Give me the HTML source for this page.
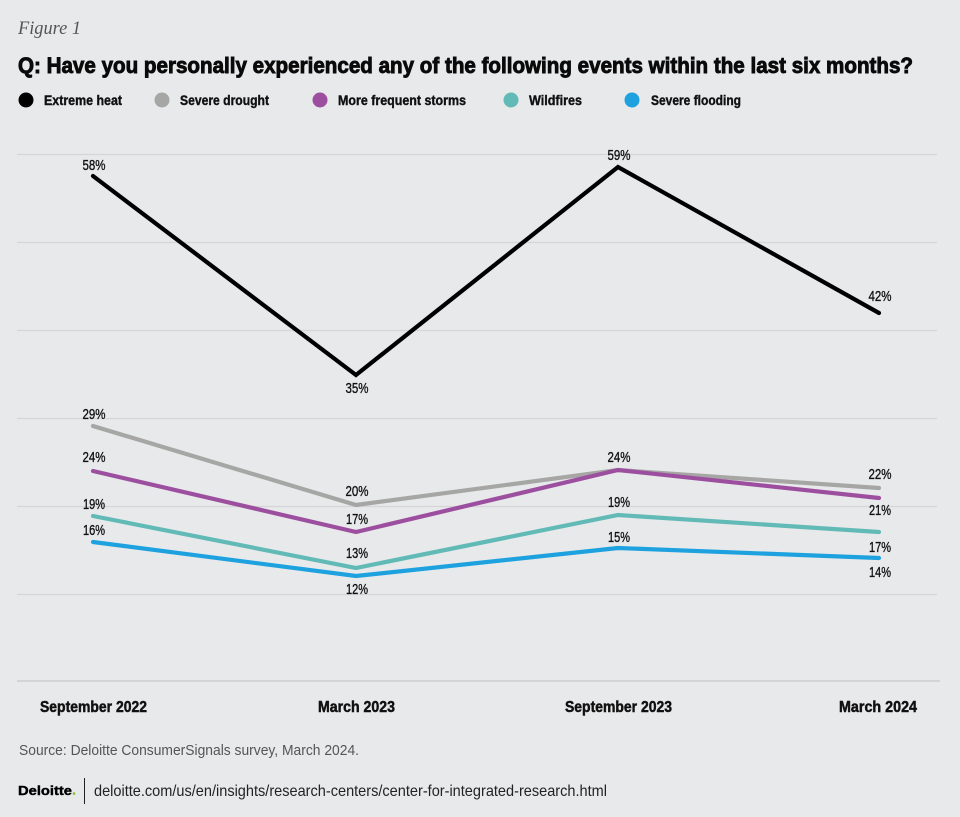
<!DOCTYPE html>
<html>
<head>
<meta charset="utf-8">
<style>
  html,body{margin:0;padding:0;background:#e8e9eb;}
  body{width:960px;height:817px;overflow:hidden;}
  svg{display:block;}
</style>
</head>
<body>
<svg width="960" height="817" viewBox="0 0 960 817" xmlns="http://www.w3.org/2000/svg" style="font-family:'Liberation Sans', sans-serif;">
  <rect x="0" y="0" width="960" height="817" fill="#e8e9eb"/>

  <!-- Figure label -->
  <text x="18" y="34" style="font-family:'Liberation Serif', serif;font-style:italic;" font-size="19" fill="#555" textLength="63" lengthAdjust="spacingAndGlyphs">Figure 1</text>

  <!-- Title -->
  <text x="18" y="73" font-size="22" font-weight="bold" fill="#0a0a0a" stroke="#0a0a0a" stroke-width="0.9" textLength="895" lengthAdjust="spacingAndGlyphs">Q: Have you personally experienced any of the following events within the last six months?</text>

  <!-- Legend -->
  <g font-size="14" font-weight="bold" fill="#111" stroke="#111" stroke-width="0.4">
    <text x="44" y="105" textLength="78" lengthAdjust="spacingAndGlyphs">Extreme heat</text>
    <text x="180" y="105" textLength="89" lengthAdjust="spacingAndGlyphs">Severe drought</text>
    <text x="338" y="105" textLength="128" lengthAdjust="spacingAndGlyphs">More frequent storms</text>
    <text x="529" y="105" textLength="53" lengthAdjust="spacingAndGlyphs">Wildfires</text>
    <text x="651" y="105" textLength="90" lengthAdjust="spacingAndGlyphs">Severe flooding</text>
  </g>
  <circle cx="26" cy="100" r="7.5" fill="#000"/>
  <circle cx="162" cy="100" r="7.5" fill="#a6a6a4"/>
  <circle cx="320" cy="100" r="7.5" fill="#9d4f9f"/>
  <circle cx="511" cy="100" r="7.5" fill="#62bab6"/>
  <circle cx="632" cy="100" r="7.5" fill="#1ea2df"/>

  <!-- Gridlines -->
  <g stroke="#d5d6d8" stroke-width="1.2">
    <line x1="17" y1="154.5" x2="937" y2="154.5"/>
    <line x1="17" y1="242.5" x2="937" y2="242.5"/>
    <line x1="17" y1="330.5" x2="937" y2="330.5"/>
    <line x1="17" y1="418.5" x2="937" y2="418.5"/>
    <line x1="17" y1="506.5" x2="937" y2="506.5"/>
    <line x1="17" y1="594.5" x2="937" y2="594.5"/>
  </g>
  <line x1="17" y1="681" x2="940" y2="681" stroke="#d3d4d6" stroke-width="2"/>

  <!-- Series -->
  <g fill="none" stroke-width="4.2" stroke-linecap="round" stroke-linejoin="miter">
    <polyline points="93,176 356,375 618,167 879,313" stroke="#000"/>
    <polyline points="93,426 356,505 618,470 879,488" stroke="#a6a6a4"/>
    <polyline points="93,471 356,532 618,470 879,498" stroke="#9d4f9f"/>
    <polyline points="93,516 356,568 618,515 879,532" stroke="#62bab6"/>
    <polyline points="93,542 356,576 618,548 879,558" stroke="#1ea2df"/>
  </g>

  <!-- Data labels -->
  <g font-size="15" fill="#111" stroke="#111" stroke-width="0.35" text-anchor="middle">
    <text x="94" y="170" textLength="23" lengthAdjust="spacingAndGlyphs">58%</text>
    <text x="94" y="419" textLength="23" lengthAdjust="spacingAndGlyphs">29%</text>
    <text x="94" y="462" textLength="23" lengthAdjust="spacingAndGlyphs">24%</text>
    <text x="94" y="509" textLength="22" lengthAdjust="spacingAndGlyphs">19%</text>
    <text x="94" y="535" textLength="22" lengthAdjust="spacingAndGlyphs">16%</text>

    <text x="357" y="393" textLength="23" lengthAdjust="spacingAndGlyphs">35%</text>
    <text x="357" y="496" textLength="23" lengthAdjust="spacingAndGlyphs">20%</text>
    <text x="357" y="524" textLength="22" lengthAdjust="spacingAndGlyphs">17%</text>
    <text x="357" y="558" textLength="22" lengthAdjust="spacingAndGlyphs">13%</text>
    <text x="357" y="594" textLength="22" lengthAdjust="spacingAndGlyphs">12%</text>

    <text x="619" y="160" textLength="23" lengthAdjust="spacingAndGlyphs">59%</text>
    <text x="619" y="462" textLength="23" lengthAdjust="spacingAndGlyphs">24%</text>
    <text x="619" y="507" textLength="22" lengthAdjust="spacingAndGlyphs">19%</text>
    <text x="619" y="542" textLength="22" lengthAdjust="spacingAndGlyphs">15%</text>

    <text x="880" y="301" textLength="23" lengthAdjust="spacingAndGlyphs">42%</text>
    <text x="880" y="479" textLength="23" lengthAdjust="spacingAndGlyphs">22%</text>
    <text x="880" y="515" textLength="22" lengthAdjust="spacingAndGlyphs">21%</text>
    <text x="880" y="552" textLength="22" lengthAdjust="spacingAndGlyphs">17%</text>
    <text x="880" y="577" textLength="22" lengthAdjust="spacingAndGlyphs">14%</text>
  </g>

  <!-- X axis labels -->
  <g font-size="16" font-weight="bold" fill="#111" stroke="#111" stroke-width="0.5">
    <text x="40" y="712" textLength="107" lengthAdjust="spacingAndGlyphs">September 2022</text>
    <text x="318" y="712" textLength="77" lengthAdjust="spacingAndGlyphs">March 2023</text>
    <text x="565" y="712" textLength="107" lengthAdjust="spacingAndGlyphs">September 2023</text>
    <text x="839" y="712" textLength="78" lengthAdjust="spacingAndGlyphs">March 2024</text>
  </g>

  <!-- Source -->
  <text x="19" y="755" font-size="15" fill="#555" textLength="340" lengthAdjust="spacingAndGlyphs">Source: Deloitte ConsumerSignals survey, March 2024.</text>

  <!-- Footer -->
  <text x="18" y="795" font-size="13" font-weight="bold" fill="#000" stroke="#000" stroke-width="0.4" textLength="54" lengthAdjust="spacingAndGlyphs">Deloitte</text>
  <circle cx="74" cy="793.5" r="1.3" fill="#86bc25"/>
  <line x1="84.5" y1="778" x2="84.5" y2="804" stroke="#222" stroke-width="1"/>
  <text x="94" y="796" font-size="16" fill="#222" textLength="513" lengthAdjust="spacingAndGlyphs">deloitte.com/us/en/insights/research-centers/center-for-integrated-research.html</text>
</svg>
</body>
</html>
